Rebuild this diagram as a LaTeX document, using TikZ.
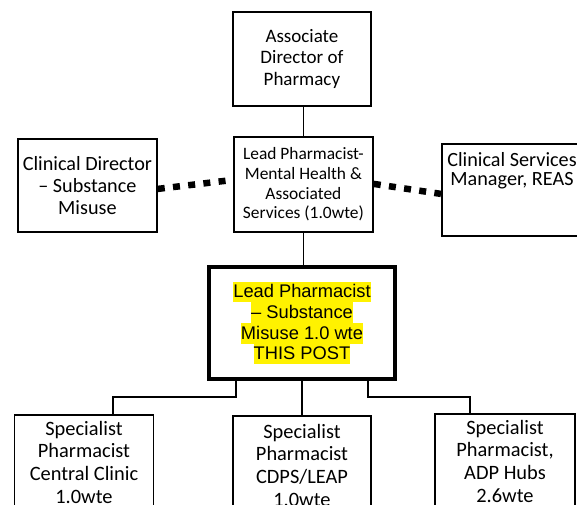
\documentclass[tikz,border=0pt]{standalone}
\usepackage{fontspec}
\setmainfont{Carlito}
\newfontfamily\arialf{Liberation Sans}
\newcommand\hlL[1]{{\setlength\fboxsep{0pt}\colorbox{yellow}{\rule[-4.7pt]{0pt}{20.7pt}#1}}}
\begin{document}
\begin{tikzpicture}[x=1pt,y=-1pt,
  box/.style={draw, line width=1.8pt, align=center, inner sep=0pt},
  thinconn/.style={line width=1pt},
  conn/.style={line width=2.6pt},
  dotline/.style={line width=6.5pt, dash pattern=on 7pt off 8.3pt}]
\useasboundingbox (0,0) rectangle (577,504);
\clip (0,0) rectangle (577,504);
\fill[white] (0,0) rectangle (577,504);
% top
\node[box, anchor=north west, minimum width=138, minimum height=94,
  font=\fontsize{19}{21.5}\selectfont] (adp) at (232,11) {Associate\\Director of\\Pharmacy};
% middle
\node[box, anchor=north west, minimum width=139, minimum height=95,
  font=\fontsize{17.4}{19.8}\selectfont] (lpm) at (233,136) {Lead Pharmacist-\\Mental Health \&\\Associated\\Services (1.0wte)};
% left
\node[box, anchor=north west, minimum width=139, minimum height=93,
  font=\fontsize{20.2}{22}\selectfont] (cd) at (17,138) {Clinical Director\\– Substance\\Misuse};
% right
\node[box, anchor=north west, minimum width=142, minimum height=92] (rs) at (441,143) {};
\node[anchor=north, align=center, inner sep=0pt,
  font=\fontsize{20.2}{19.5}\selectfont] (rst) at (512,152) {Clinical Services\\Manager, REAS};
% lead (this post)
\node[draw, line width=4pt, anchor=north west, minimum width=186, minimum height=112,
  align=center, inner sep=0pt, font=\arialf\fontsize{18.3}{20.7}\selectfont] (lead) at (207,265)
  {\hlL{Lead Pharmacist}\\\hlL{– Substance}\\\hlL{Misuse 1.0 wte}\\\hlL{THIS POST}};
% bottom boxes
\node[box, anchor=north, minimum width=139, inner ysep=6pt,
  font=\fontsize{20.4}{22.7}\selectfont] (sp1) at (84,414) {Specialist\\Pharmacist\\Central Clinic\\1.0wte};
\node[box, anchor=north, minimum width=138, inner ysep=8pt,
  font=\fontsize{20.4}{22.7}\selectfont] (sp2) at (302,415) {Specialist\\Pharmacist\\CDPS/LEAP\\1.0wte};
\node[box, anchor=north, minimum width=140, inner ysep=6pt,
  font=\fontsize{20.4}{22.7}\selectfont] (sp3) at (505,413) {Specialist\\Pharmacist,\\ADP Hubs\\2.6wte};
% connectors
\draw[thinconn] (adp.south -| lpm.north) -- (lpm.north);
\draw[thinconn] (lpm.south) -- (lpm.south |- lead.north);
\draw[conn] ([xshift=-66pt]lead.south) -- ++(0,16) -| ([xshift=29pt]sp1.north);
\draw[conn] (lead.south -| sp2.north) -- (sp2.north);
\draw[conn] ([xshift=66pt]lead.south) -- ++(0,16) -| ([xshift=-35pt]sp3.north);
\draw[dotline] ([yshift=-3.5pt]cd.east) -- ([yshift=4.5pt]lpm.west);
\draw[dotline] ([yshift=0.5pt]lpm.east) -- ([yshift=-4pt]rs.west);
\end{tikzpicture}
\end{document}
